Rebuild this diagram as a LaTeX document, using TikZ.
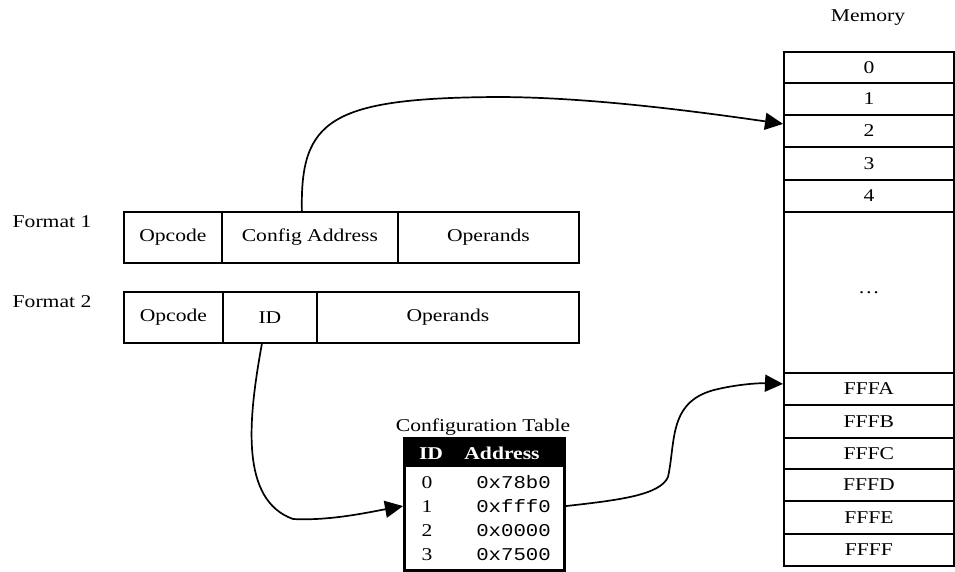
\documentclass[tikz,border=0pt]{standalone}
\usepackage{fontspec}
\setmainfont{Liberation Serif}[FakeStretch=1.2]
\setmonofont{Liberation Mono}[FakeStretch=1.15]
\usetikzlibrary{arrows.meta}
\begin{document}
\begin{tikzpicture}[x=1pt,y=-1pt,
  font=\fontsize{18}{22}\selectfont,
  box/.style={draw, line width=1.8pt, inner sep=0pt, anchor=north west, minimum height=51pt},
  cell/.style={draw, line width=1.8pt, inner sep=0pt, anchor=north west, minimum width=170pt},
  addr/.style={anchor=base east, inner sep=0pt, font=\fontsize{18}{22}\ttfamily},
  idnum/.style={anchor=base, inner sep=0pt},
  hdr/.style={text=white, inner sep=0pt, font=\fontsize{18}{22}\bfseries},
  link/.style={line width=1.7pt, -{Triangle[length=18pt,width=17pt]}},
]
\useasboundingbox (0,0) rectangle (955,571);

% instruction formats
\node (f1) at (52,222) {Format 1};
\node (f2) at (52,302) {Format 2};
\node[box, minimum width=98pt]  (op1)  at (123,211) {Opcode};
\node[box, minimum width=176pt] (cfg)  at (221,211) {Config Address};
\node[box, minimum width=181pt] (opr1) at (397,211) {Operands};
\node[box, minimum width=99pt]  (op2)  at (123,291) {Opcode};
\node[box, minimum width=94pt]  (idf)  at (222,291) {ID};
\node[box, minimum width=262pt] (opr2) at (316,291) {Operands};

% memory column
\node (memlbl) at (868,18) {Memory};
\node[cell, minimum height=31pt]  (m0) at (783,51)  {0};
\node[cell, minimum height=32pt]  (m1) at (783,82)  {1};
\node[cell, minimum height=32pt]  (m2) at (783,114) {2};
\node[cell, minimum height=33pt]  (m3) at (783,146) {3};
\node[cell, minimum height=32pt]  (m4) at (783,179) {4};
\node[cell, minimum height=161pt] (md) at (783,211) {\ldots};
\node[cell, minimum height=32pt]  (mA) at (783,372) {FFFA};
\node[cell, minimum height=33pt]  (mB) at (783,404) {FFFB};
\node[cell, minimum height=31pt]  (mC) at (783,437) {FFFC};
\node[cell, minimum height=32pt]  (mD) at (783,468) {FFFD};
\node[cell, minimum height=33pt]  (mE) at (783,500) {FFFE};
\node[cell, minimum height=32pt]  (mF) at (783,533) {FFFF};

% configuration table
\node[anchor=base, inner sep=0pt] (ttl) at (483,431) {Configuration Table};
\node[draw, line width=2.8pt, anchor=north west, inner sep=0pt,
      minimum width=160pt, minimum height=132pt] (tbl) at (403,437) {};
\fill (403,437) rectangle (563,467);
\node[hdr, anchor=base] (hid)  at (431,459) {ID};
\node[hdr, anchor=base] (hadr) at (502,459) {Address};
\node[idnum] (id0) at (427,488) {0};
\node[idnum] (id1) at (427,512) {1};
\node[idnum] (id2) at (427,536) {2};
\node[idnum] (id3) at (427,560) {3};
\node[addr] (a0) at (551,488) {0x78b0};
\node[addr] (a1) at (551,512) {0xfff0};
\node[addr] (a2) at (551,536) {0x0000};
\node[addr] (a3) at (551,560) {0x7500};

% pointers
\draw[link] ([xshift=-8pt]cfg.north) .. controls (300,120) and (330,98) .. (497,97)
  .. controls (590,97) and (700,112) .. ([yshift=7pt]m2.west);
\draw[link] ([xshift=-8pt]idf.south) .. controls (248,420) and (240,500) .. (293,519)
  .. controls (330,521) and (370,512) .. (tbl.west |- id1);
\draw[link] (tbl.east |- id1) .. controls (620,500) and (660,495) .. (668,477)
  .. controls (676,440) and (668,400) .. (718,389)
  .. controls (740,384) and (760,383) .. ([yshift=5pt]mA.west);
\end{tikzpicture}
\end{document}
